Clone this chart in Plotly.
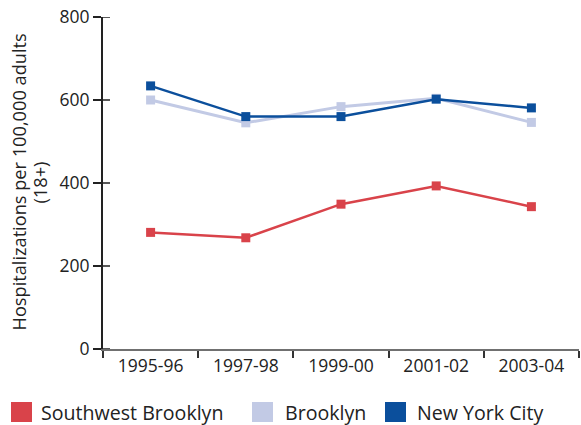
import plotly.graph_objects as go

periods = ["1995-96", "1997-98", "1999-00", "2001-02", "2003-04"]
southwest_brooklyn = [281, 268, 349, 393, 343]
brooklyn = [600, 545, 584, 604, 546]
new_york_city = [634, 560, 560, 602, 581]
y_ticks = [0, 200, 400, 600, 800]

series = [
    ("Southwest Brooklyn", southwest_brooklyn, "#d9434a", 2.5),
    ("Brooklyn", brooklyn, "#c2cae5", 3),
    ("New York City", new_york_city, "#0b4f9c", 2.5),
]

W, H = 581, 425
L, R, T, B = 103, 2, 17, 76
pw = W - L - R
ph = H - T - B

font_family = "Open Sans"
text_color = "#222222"

fig = go.Figure()
for name, vals, color, lw in series:
    fig.add_trace(go.Scatter(
        x=periods, y=vals, name=name, mode="lines+markers",
        line=dict(color=color, width=lw),
        marker=dict(symbol="square", size=9, color=color),
        showlegend=False, hoverinfo="x+y+name",
    ))

shapes = []
# inner half of crossing y ticks
for v in y_ticks:
    shapes.append(dict(type="line", xref="paper", yref="y", x0=0, x1=7 / pw,
                       y0=v, y1=v, line=dict(color="#222222", width=1.5)))

annotations = []
# manual legend
legend_items = [(11, 39), (252, 283), (385, 415)]
for (sx, tx), (name, vals, color, lw) in zip(legend_items, series):
    x0 = (sx - L) / pw
    x1 = (sx + 21 - L) / pw
    y0 = (H - B - 422) / ph
    y1 = (H - B - 402) / ph
    shapes.append(dict(type="rect", xref="paper", yref="paper", x0=x0, x1=x1,
                       y0=y0, y1=y1, fillcolor=color, line=dict(width=0)))
    annotations.append(dict(text=name, xref="paper", yref="paper",
                            x=(tx - L) / pw, y=(H - B - 412) / ph,
                            xanchor="left", yanchor="middle", showarrow=False,
                            font=dict(family=font_family, size=19.6, color=text_color)))

# y-axis title lines
for txt, cx in [("Hospitalizations per 100,000 adults", 18), ("(18+)", 39)]:
    annotations.append(dict(text=txt, xref="paper", yref="paper",
                            x=(cx - L) / pw, y=(H - B - 182.5) / ph,
                            xanchor="center", yanchor="middle", textangle=-90,
                            showarrow=False,
                            font=dict(family=font_family, size=18.2, color=text_color)))

fig.update_layout(
    width=W, height=H,
    margin=dict(l=L, r=R, t=T, b=B),
    paper_bgcolor="white", plot_bgcolor="white",
    font=dict(family=font_family, size=17.5, color=text_color),
    shapes=shapes, annotations=annotations,
    showlegend=False,
)
fig.update_xaxes(
    type="category", range=[-0.5, 4.5], tickson="boundaries",
    ticks="outside", ticklen=7, tickwidth=1.5, tickcolor="#333333",
    showline=True, linecolor="#707070", linewidth=2,
    showgrid=False, zeroline=False, fixedrange=True,
    tickfont=dict(family=font_family, size=17.5, color=text_color),
)
fig.update_yaxes(
    range=[0, 800], tickvals=y_ticks,
    ticks="outside", ticklen=8, tickwidth=1.5, tickcolor="#222222",
    showline=True, linecolor="#222222", linewidth=2,
    showgrid=False, zeroline=False, fixedrange=True,
    tickfont=dict(family=font_family, size=17.5, color=text_color),
)

fig.write_html("out.html",
               config={"displayModeBar": False},
               post_script="document.body.style.margin='0';document.body.style.padding='0';")
